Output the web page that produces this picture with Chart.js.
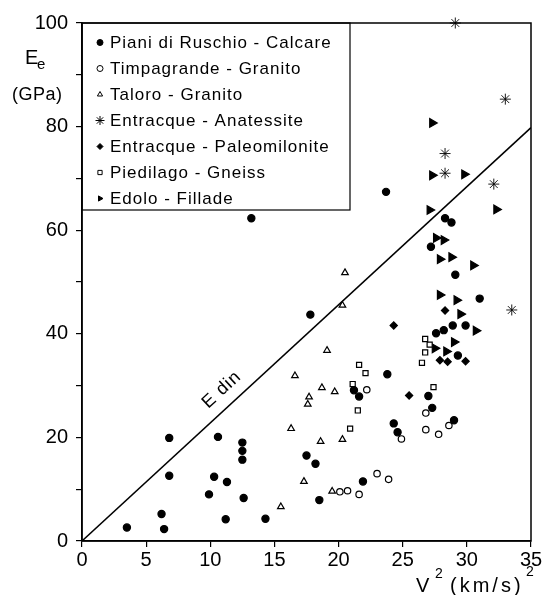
<!DOCTYPE html>
<html>
<head>
<meta charset="utf-8">
<script src="https://cdn.jsdelivr.net/npm/chart.js@4"></script>
<style>
  html, body { margin: 0; padding: 0; background: #fff; }
  canvas { display: block; }
</style>
</head>
<body>
<canvas id="myChart" width="544" height="595"></canvas>
<script>
// V^2 (km/s)^2 , E (GPa) pairs for each site
const pianiRuschio = [
  [3.5, 2.6], [6.2, 5.2], [6.4, 2.3], [6.8, 19.9], [6.8, 12.6], [9.9, 9.0],
  [10.3, 12.4], [10.6, 20.1], [11.3, 11.4], [11.2, 4.2], [12.5, 19.0], [12.5, 17.4],
  [12.5, 15.7], [12.6, 8.3], [14.3, 4.3], [13.2, 62.3], [17.5, 16.5], [18.2, 14.9],
  [18.5, 7.9], [17.8, 43.7], [21.9, 11.5], [21.2, 29.1], [21.6, 27.9], [23.8, 32.2],
  [23.7, 67.4], [24.3, 22.7], [24.6, 21.0], [27.0, 28.0], [27.3, 25.7], [29.0, 23.3],
  [27.6, 40.1], [28.2, 40.7], [28.9, 41.6], [29.9, 41.6], [29.3, 35.8], [31.0, 46.8],
  [29.1, 51.4], [27.2, 56.8], [28.3, 62.3], [28.8, 61.5]
];
const timpagrande = [
  [20.1, 9.5], [20.7, 9.7], [21.6, 9.0], [23.0, 13.0], [23.9, 11.9], [24.9, 19.7],
  [26.8, 24.7], [26.8, 21.5], [27.8, 20.6], [28.6, 22.3], [22.2, 29.2]
];
const taloro = [
  [15.5, 6.6], [17.3, 11.5], [19.5, 9.6], [16.3, 21.7], [17.6, 26.4], [17.7, 27.8],
  [18.6, 19.2], [20.3, 19.6], [16.6, 31.9], [18.7, 29.6], [19.7, 28.8], [19.1, 36.8],
  [20.3, 45.5], [20.5, 51.8]
];
const anatessite = [
  [29.1, 100], [33.0, 85.3], [28.3, 74.8], [28.3, 71.0], [32.1, 68.9], [33.5, 44.6]
];
const paleomilonite = [
  [24.3, 41.6], [25.5, 28.1], [27.9, 34.9], [28.5, 34.6], [29.9, 34.7], [28.3, 44.5]
];
const piedilago = [
  [20.9, 21.7], [21.5, 25.2], [21.1, 30.3], [21.6, 34.0], [22.1, 32.4], [26.5, 34.4],
  [26.75, 36.4], [27.1, 37.9], [26.75, 39.0], [27.4, 29.7]
];
const edolo = [
  [27.3, 80.7], [27.3, 70.6], [29.8, 70.8], [27.1, 63.9], [32.3, 64.0], [27.6, 58.5],
  [28.2, 58.1], [27.9, 54.4], [28.8, 54.8], [30.5, 53.2], [27.9, 47.5], [29.2, 46.5],
  [29.5, 43.8], [30.7, 40.6], [27.5, 37.2], [29.0, 38.4], [28.4, 36.6]
];
// dynamic modulus line E = 2.28 V^2
const edin = [[0, 0], [35, 79.8]];
const edinLabelAt = [10.9, 29.2];

const xTicks = [0, 5, 10, 15, 20, 25, 30, 35];
const yLabelled = [0, 20, 40, 60, 80, 100];

const FONT = "'Liberation Sans', Arial, sans-serif";
const pts = arr => arr.map(p => ({ x: p[0], y: p[1] }));

function series(label, data, style, opts) {
  return Object.assign({
    type: 'scatter',
    label: label,
    data: pts(data),
    pointStyle: style,
    pointRadius: 3.5,
    pointHoverRadius: 3.5,
    borderColor: '#000',
    backgroundColor: '#000',
    pointBorderWidth: 1.2,
    clip: false
  }, opts || {});
}

// box round the plot, key in the corner, axis names and the E din tag
const decorations = {
  id: 'decorations',
  afterDraw(chart) {
    const ctx = chart.ctx;
    const a = chart.chartArea;
    const xs = chart.scales.x, ys = chart.scales.y;
    ctx.save();
    ctx.strokeStyle = '#000';
    ctx.fillStyle = '#000';
    ctx.lineWidth = 1.5;
    ctx.strokeRect(a.left, a.top, a.right - a.left, a.bottom - a.top);

    // key
    const boxRight = a.left + 268, boxBottom = a.top + 187;
    ctx.lineWidth = 1.2;
    ctx.strokeRect(a.left, a.top, boxRight - a.left, boxBottom - a.top);
    ctx.font = '17px ' + FONT;
    ctx.textBaseline = 'middle';
    ctx.textAlign = 'left';
    ctx.letterSpacing = '1px';
    const keyed = chart.data.datasets.filter(d => d.type === 'scatter');
    keyed.forEach((d, i) => {
      const y = a.top + 19.5 + i * 26;
      ctx.fillStyle = d.backgroundColor;
      ctx.strokeStyle = d.borderColor;
      ctx.lineWidth = 1;
      Chart.helpers.drawPoint(ctx, {
        pointStyle: d.pointStyle,
        rotation: d.pointRotation || 0,
        radius: d.pointStyle === 'star' ? 4.5 : 3,
        borderWidth: 1
      }, a.left + 18, y);
      ctx.fillStyle = '#000';
      ctx.fillText(d.label, a.left + 28, y + 1);
    });
    ctx.letterSpacing = '0px';

    // y-axis name
    ctx.font = '20px ' + FONT;
    ctx.textAlign = 'left';
    ctx.textBaseline = 'alphabetic';
    ctx.fillText('E', 25, 64);
    ctx.font = '15px ' + FONT;
    ctx.fillText('e', 37, 69);
    ctx.font = '18px ' + FONT;
    ctx.letterSpacing = '0.5px';
    ctx.fillText('(GPa)', 12, 100);

    // x-axis name
    const base = a.bottom + 51;
    ctx.font = '20px ' + FONT;
    ctx.letterSpacing = '0px';
    ctx.fillText('V', a.right - 115, base);
    ctx.font = '14px ' + FONT;
    ctx.fillText('2', a.right - 96, base - 14);
    ctx.font = '20px ' + FONT;
    ctx.letterSpacing = '3px';
    ctx.fillText('(km/s)', a.right - 81, base);
    ctx.letterSpacing = '0px';
    ctx.font = '14px ' + FONT;
    ctx.fillText('2', a.right - 5, base - 16);

    // E din tag, turned to follow the line
    const p0 = { x: xs.getPixelForValue(edin[0][0]), y: ys.getPixelForValue(edin[0][1]) };
    const p1 = { x: xs.getPixelForValue(edin[1][0]), y: ys.getPixelForValue(edin[1][1]) };
    const ang = Math.atan2(p1.y - p0.y, p1.x - p0.x);
    ctx.translate(xs.getPixelForValue(edinLabelAt[0]), ys.getPixelForValue(edinLabelAt[1]));
    ctx.rotate(ang);
    ctx.font = '18px ' + FONT;
    ctx.letterSpacing = '1px';
    ctx.textAlign = 'center';
    ctx.textBaseline = 'middle';
    ctx.fillText('E din', 0, 0);
    ctx.restore();
  }
};

const ctx = document.getElementById('myChart');
const chart = new Chart(ctx, {
  data: {
    datasets: [
      series('Piani di Ruschio - Calcare', pianiRuschio, 'circle', { pointRadius: 3.6 }),
      series('Timpagrande - Granito', timpagrande, 'circle', { backgroundColor: '#fff', pointRadius: 3.2 }),
      series('Taloro - Granito', taloro, 'triangle', { backgroundColor: '#fff', pointRadius: 3.8 }),
      series('Entracque - Anatessite', anatessite, 'star', { pointRadius: 5.5, pointBorderWidth: 0.9 }),
      series('Entracque - Paleomilonite', paleomilonite, 'rectRot', { pointRadius: 3.6 }),
      series('Piedilago - Gneiss', piedilago, 'rect', { backgroundColor: '#fff', pointRadius: 3.6 }),
      series('Edolo - Fillade', edolo, 'triangle', { pointRadius: 5, pointRotation: 90 }),
      {
        type: 'line',
        label: 'E din',
        data: pts(edin),
        borderColor: '#000',
        borderWidth: 1.5,
        pointRadius: 0,
        fill: false
      }
    ]
  },
  options: {
    responsive: false,
    animation: false,
    events: [],
    layout: { padding: { top: 23, right: 13, left: 0, bottom: 0 } },
    plugins: {
      legend: { display: false },
      tooltip: { enabled: false }
    },
    scales: {
      x: {
        type: 'linear',
        min: 0,
        max: 35,
        afterFit: s => { s.height = 54; },
        afterBuildTicks: s => { s.ticks = xTicks.map(v => ({ value: v })); },
        ticks: { color: '#000', font: { size: 20, family: FONT }, padding: 1, maxRotation: 0 },
        grid: { drawOnChartArea: false, color: '#000', tickLength: 6, lineWidth: 1.2 },
        border: { color: '#000', width: 1.5 }
      },
      y: {
        type: 'linear',
        min: 0,
        max: 100,
        afterFit: s => { s.width = 82; },
        ticks: {
          stepSize: 10,
          color: '#000',
          font: { size: 20, family: FONT },
          padding: 8,
          callback: v => yLabelled.includes(v) ? v : ''
        },
        grid: { drawOnChartArea: false, color: '#000', tickLength: 6, lineWidth: 1.2 },
        border: { color: '#000', width: 1.5 }
      }
    }
  },
  plugins: [decorations]
});
</script>
</body>
</html>
